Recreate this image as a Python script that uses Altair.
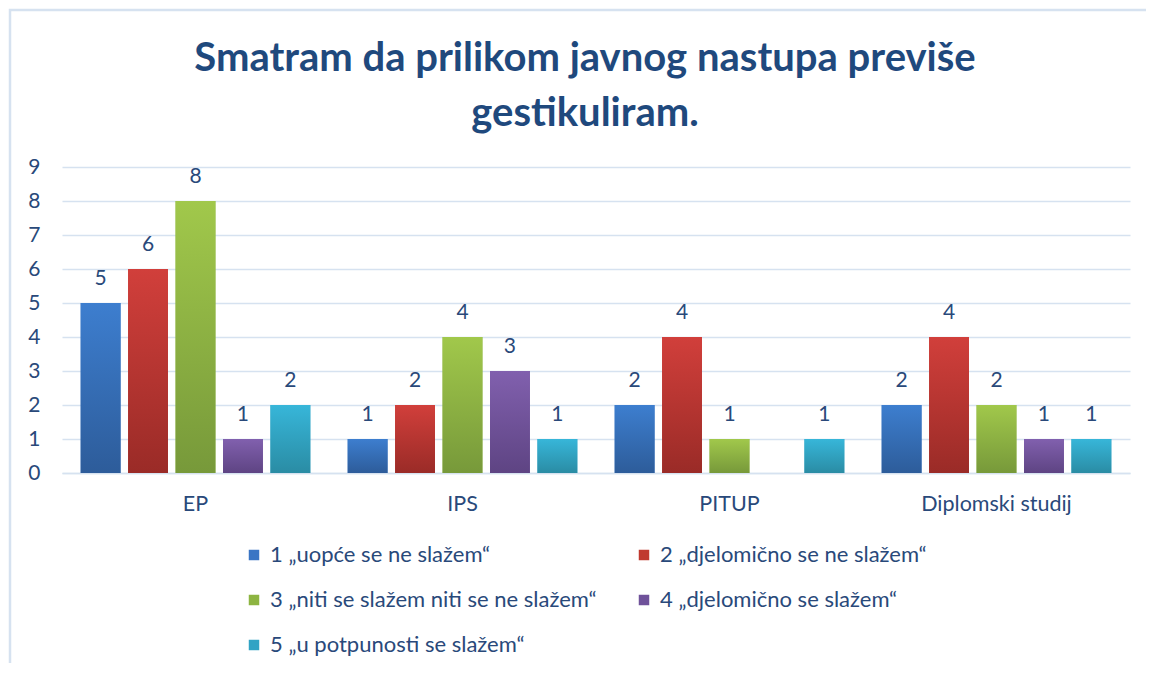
import altair as alt
import pandas as pd

categories = ["EP", "IPS", "PITUP", "Diplomski studij"]
series = [
    "1 „uopće se ne slažem“",
    "2 „djelomično se ne slažem“",
    "3 „niti se slažem niti se ne slažem“",
    "4 „djelomično se slažem“",
    "5 „u potpunosti se slažem“",
]
values = {
    series[0]: [5, 1, 2, 2],
    series[1]: [6, 2, 4, 4],
    series[2]: [8, 4, 1, 2],
    series[3]: [1, 3, 0, 1],
    series[4]: [2, 1, 1, 1],
}
y_ticks = [0, 1, 2, 3, 4, 5, 6, 7, 8, 9]
solid = ["#3A75C4", "#C0392F", "#8DB441", "#6F529A", "#31A3C4"]
grad_top = ["#3D7ECF", "#D13F3B", "#A1C84B", "#8160AE", "#37B6D9"]
grad_bot = ["#2D5C9A", "#9A2B27", "#77993A", "#5E4483", "#2A8CA4"]

rows = []
for s in series:
    for c, v in zip(categories, values[s]):
        rows.append({"category": c, "series": s, "value": v})
df = pd.DataFrame(rows)

TXT = "#29497A"
FONT = "Lato"

x_enc = alt.X("category:N", sort=categories,
              scale=alt.Scale(paddingInner=0.14, paddingOuter=0.07),
              axis=alt.Axis(title=None, labelAngle=0, labelFontSize=21.5, labelColor=TXT,
                            labelFont=FONT, labelPadding=20, ticks=False,
                            domainColor="#D6E2F0", domainWidth=1.5, grid=False))
xo_enc = alt.XOffset("series:N", sort=series,
                     scale=alt.Scale(domain=series, paddingInner=0.16, paddingOuter=0))
y_enc = alt.Y("value:Q", scale=alt.Scale(domain=[0, 9], nice=False),
              axis=alt.Axis(title=None, values=y_ticks, labelFontSize=21,
                            labelColor=TXT, labelFont=FONT, labelPadding=22, ticks=False,
                            labelOverlap=False, domain=False,
                            gridColor="#D6E2F0", gridWidth=1.5))

base = alt.Chart(df)

bars = base.mark_bar().encode(
    x=x_enc, xOffset=xo_enc, y=y_enc,
    color=alt.Color("series:N", sort=series,
                    scale=alt.Scale(domain=series, range=solid),
                    legend=alt.Legend(title=None, orient="none", legendX=181, legendY=377,
                                      direction="horizontal",
                                      columns=2, columnPadding=36, rowPadding=23,
                                      symbolType="square", symbolSize=110,
                                      symbolStrokeWidth=0, labelFontSize=22,
                                      labelFont=FONT, labelColor=TXT, labelOffset=5,
                                      padding=0, labelLimit=500)),
)

layers = [bars]
for i, s in enumerate(series):
    g = alt.Gradient(gradient="linear",
                     stops=[alt.GradientStop(color=grad_top[i], offset=0),
                            alt.GradientStop(color=grad_bot[i], offset=1)],
                     x1=0, x2=0, y1=0, y2=1)
    layers.append(
        base.transform_filter(alt.datum.series == s).mark_bar(color=g).encode(
            x=x_enc, xOffset=xo_enc, y=y_enc,
        )
    )

labels = base.transform_filter(alt.datum.value > 0).mark_text(
    baseline="middle", dy=-24, fontSize=21, font=FONT, color=TXT
).encode(
    x=x_enc, xOffset=xo_enc, y=y_enc,
    text="value:Q",
)
layers.append(labels)

border = alt.Chart(pd.DataFrame({"a": [0]})).mark_rect(
    fill=None, stroke="#D6E2F0", strokeWidth=2.5, clip=False
).encode(x=alt.value(-52), x2=alt.value(1200), y=alt.value(-157), y2=alt.value(700))
layers.append(border)

chart = alt.layer(*layers).properties(
    width=1068, height=306,
    autosize=alt.AutoSizeParams(type="none"),
    padding={"left": 54, "top": 159, "right": 16, "bottom": 190},
    title=alt.Title(["Smatram da prilikom javnog nastupa previše", "gestikuliram."],
                    anchor="middle", fontSize=40, font=FONT, fontWeight="bold",
                    color="#1F497D", lineHeight=55, offset=20, dx=-11, dy=145),
).configure_view(stroke=None)

chart.save("out.html", embed_options={"renderer": "svg", "actions": False})
